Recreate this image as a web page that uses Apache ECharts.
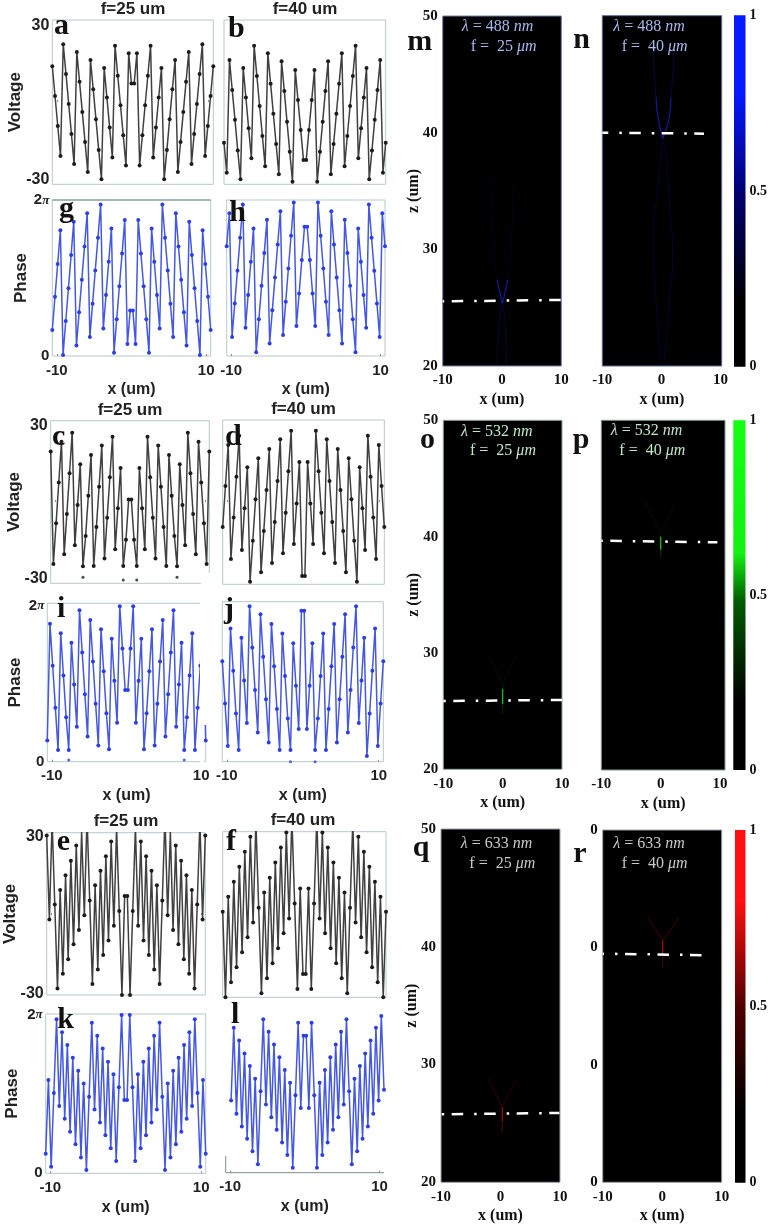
<!DOCTYPE html>
<html>
<head>
<meta charset="utf-8">
<style>
  html, body { margin: 0; padding: 0; background: #fff; }
  #main { width: 770px; height: 1226px; }
</style>
<script src="https://cdn.jsdelivr.net/npm/echarts@6/dist/echarts.min.js"></script>
</head>
<body>
<div id="main"></div>
<script>
// sample positions along x (um), shared by all 60 point profiles
var xSamples = [-10.6,-10.24,-9.88,-9.52,-9.16,-8.8,-8.44,-8.08,-7.73,-7.37,-7.01,-6.65,-6.29,-5.93,-5.57,-5.21,-4.85,-4.49,-4.13,-3.77,-3.41,-3.05,-2.69,-2.34,-1.98,-1.62,-1.26,-0.9,-0.54,-0.18,
  0.18,0.54,0.9,1.26,1.62,1.98,2.34,2.69,3.05,3.41,3.77,4.13,4.49,4.85,5.21,5.57,5.93,6.29,6.65,7.01,7.37,7.73,8.08,8.44,8.8,9.16,9.52,9.88,10.24,10.6];

// voltage profiles (V)
var voltA = [14,2.4,-9.3,-21,22.6,11,-0.7,-12.4,-24.1,19.5,7.9,-3.8,-15.5,-27.2,16.4,5,-6.7,-18.6,-30,13.3,1.8,-9.9,-21.6,22,10.3,-1.2,-12.9,-24.7,19,7.3,
  7.3,19,-24.7,-12.9,-1.2,10.3,22,-21.6,-9.9,1.8,13.3,-30,-18.6,-6.7,5,16.4,-27.2,-15.5,-3.8,7.9,19.5,-24.1,-12.4,-0.7,11,22.6,-21,-9.3,2.4,14];
var voltB = [-15.8,-27.5,16.4,4.7,-6.9,-18.8,-30,13.3,1.8,-10.2,-21.9,22,10.2,-1.5,-13.2,-25,19,7.2,-4.5,-16.3,-28.1,15.9,4.3,-7.6,-19.3,-31,12.5,0.8,-10.8,-22.5,
  -22.5,-10.8,0.8,12.5,-31,-19.3,-7.6,4.3,15.9,-28.1,-16.3,-4.5,7.2,19,-25,-13.2,-1.5,10.2,22,-21.9,-10.2,1.8,13.3,-30,-18.8,-6.9,4.7,16.4,-27.5,-15.8];
var voltC = [19.9,-24.4,-8.4,7.7,23.7,-20.6,-4.7,11.3,27.3,-17,-1.2,14.9,-25.3,-13.4,2.5,18.5,-25.2,-9.8,6,22.2,-22.2,-6.2,9.7,25.7,-18.6,-2.5,13.4,-25.2,-14.9,1,
  1,-14.9,-25.2,13.4,-2.5,-18.6,25.7,9.7,-6.2,-22.2,22.2,6,-9.8,-25.2,18.5,2.5,-13.4,-25.3,14.9,-1.2,-17,27.3,11.3,-4.7,-20.6,23.7,7.7,-8.4,-24.4,19.9];
var voltD = [-9.7,6.3,22.3,-22.1,-6,9.9,25.9,-18.6,-2.4,13.6,-31,-15,1.1,17.1,-27.3,-11.2,4.7,20.7,-23.7,-7.7,8.2,24.5,-19.9,-4.1,12,27.8,-16.3,-0.5,15.6,-28.8,
  -28.8,15.6,-0.5,-16.3,27.8,12,-4.1,-19.9,24.5,8.2,-7.7,-23.7,20.7,4.7,-11.2,-27.3,17.1,1.1,-15,-31,13.6,-2.4,-18.6,25.9,9.9,-6,-22.1,22.3,6.3,-9.7];
var voltE = [30.4,-1.7,36,4,-28.1,9.6,-22.5,15.2,-16.9,20.8,-11.2,26.6,-5.7,31.9,-0.1,37.5,5.6,-26.4,11.4,-20.8,16.9,-15.3,22.5,-9.7,28.1,-4.1,33.6,1.5,-30.6,7.3,
  7.3,-30.6,1.5,33.6,-4.1,28.1,-9.7,22.5,-15.3,16.9,-20.8,11.4,-26.4,5.6,37.5,-0.1,31.9,-5.7,26.6,-11.2,20.8,-16.9,15.2,-22.5,9.6,-28.1,4,36,-1.7,30.4];
var voltF = [2,-30,7.6,-24.4,13.2,-18.8,18.8,-13.2,24.4,-7.6,30,-2,35.6,3.5,-28.5,9.2,-22.9,14.7,-17.3,20.4,-11.7,26,-6.1,31.6,-0.5,37.1,5.1,-26.9,10.7,-21.3,
  -21.3,10.7,-26.9,5.1,37.1,-0.5,31.6,-6.1,26,-11.7,20.4,-17.3,14.7,-22.9,9.2,-28.5,3.5,35.6,-2,30,-7.6,24.4,-13.2,18.8,-18.8,13.2,-24.4,7.6,-30,2];

// phase profiles (rad)
var phaseG = [1.05,2.39,3.71,5.07,0.04,1.41,2.73,4.07,5.41,0.42,1.76,3.07,4.42,5.76,0.77,2.11,3.45,4.77,6.11,1.11,2.46,3.8,5.14,0.13,1.48,2.81,4.13,5.48,0.48,1.83,
  1.83,0.48,5.48,4.13,2.81,1.48,0.13,5.14,3.8,2.46,1.11,6.11,4.77,3.45,2.11,0.77,5.76,4.42,3.07,1.76,0.42,5.41,4.07,2.73,1.41,0.04,5.07,3.71,2.39,1.05];
var phaseH = [4.43,5.76,0.77,2.12,3.44,4.77,6.11,1.14,2.46,3.8,5.14,0.15,1.48,2.83,4.15,5.49,0.5,1.84,3.17,4.5,5.84,0.85,2.19,3.53,4.85,6.19,1.21,2.52,3.87,5.21,
  5.21,3.87,2.52,1.21,6.19,4.85,3.53,2.19,0.85,5.84,4.5,3.17,1.84,0.5,5.49,4.15,2.83,1.48,0.15,5.14,3.8,2.46,1.14,6.11,4.77,3.44,2.12,0.77,5.76,4.43];
var phaseI = [0.86,5.56,3.87,2.18,0.47,5.18,3.48,1.79,0.47,4.8,3.11,1.41,6.11,4.41,2.72,1.02,5.72,4.04,2.34,0.65,5.34,3.65,1.95,0.5,4.96,3.27,1.57,6.27,4.57,2.89,
  2.89,4.57,6.27,1.57,3.27,4.96,0.5,1.95,3.65,5.34,0.65,2.34,4.04,5.72,1.02,2.72,4.41,6.11,1.41,3.11,4.8,0.47,1.79,3.48,5.18,0.47,2.18,3.87,5.56,0.86];
var phaseJ = [4.06,2.35,0.63,5.38,3.67,1.95,0.47,5,3.28,1.56,6.28,4.61,2.89,1.18,5.95,4.24,2.52,0.78,5.56,3.85,2.13,0.47,5.18,3.46,1.74,0.47,4.78,3.07,1.32,6.09,
  6.09,1.32,3.07,4.78,0.47,1.74,3.46,5.18,0.47,2.13,3.85,5.56,0.78,2.52,4.24,5.95,1.18,2.89,4.61,6.28,1.56,3.28,5,0.23,1.95,3.67,5.38,0.63,2.35,4.06];
var phaseK = [0.78,3.7,0.26,3.19,6.11,2.67,5.6,2.16,5.09,1.65,4.58,1.15,4.07,0.63,3.56,0.13,3.04,5.97,2.53,5.46,2.02,4.95,1.51,4.43,0.99,3.93,0.49,3.41,6.28,2.91,
  2.91,6.28,3.41,0.49,3.93,0.99,4.43,1.51,4.95,2.02,5.46,2.53,5.97,3.04,0.13,3.56,0.63,4.07,1.15,4.58,1.65,5.09,2.16,5.6,2.67,6.11,3.19,0.26,3.7,0.78];
var phaseL = [null,null,2.88,5.77,2.35,5.26,1.84,4.75,1.35,4.25,0.85,3.74,0.34,3.24,6.11,2.72,5.61,2.21,5.11,1.71,4.6,1.2,4.09,0.7,3.58,0.2,3.08,5.97,2.58,5.45,
  5.45,2.58,5.97,3.08,0.2,3.58,0.7,4.09,1.2,4.6,1.71,5.11,2.21,5.61,2.72,6.11,3.24,0.34,3.74,0.85,4.25,1.35,4.75,1.84,5.26,2.35,5.77,2.88,6.24,3.3];

// stray dots left under the profiles
var strayC = [[-6.29,-29.6],[-0.9,-30.7],[0.9,-30.7],[6.29,-29.6]];
var strayI = [[-7.73,0.07],[7.73,0.07]];
var strayJ = [[-1.62,0],[1.62,0]];

// focus lines, [x, z] in um
var focusM = [[-10,25.54],[10,25.66]];
var focusN = [[-10,39.98],[7.2,39.9]];
var focusO = [[-10,25.87],[10,25.96]];
var focusP = [[-10,39.67],[9.55,39.53]];
var focusQ = [[-10,25.77],[9.9,25.89]];
var focusR = [[-10,39.47],[8.3,39.33]];

// beam traces, [x, z] in um
var mCoreL = [[0.05,25.4],[-0.4,26.4],[-0.85,27.4]];
var mCoreR = [[0.05,25.4],[0.55,26.4],[0.95,27.4]];
var mArmL = [[-0.85,27.4],[-1.3,29.1],[-1.5,31],[-1.9,36]];
var mArmR = [[0.95,27.4],[1.4,29.1],[1.6,31],[2,36]];
var mLegL = [[0.05,25.6],[-0.35,24.4],[-0.6,22.8],[-0.9,20.1]];
var mLegR = [[0.05,25.6],[0.4,24.4],[0.6,22.8],[0.75,20.1]];
var nCoreL = [[0.22,39.5],[-0.6,41.35],[-0.9,43]];
var nCoreR = [[0.22,39.5],[1.34,41.35],[1.6,43]];
var nArmL = [[-0.9,43],[-1.17,44.8],[-1.45,47.3]];
var nArmR = [[1.6,43],[1.9,44.8],[2.2,47.3]];
var nLegL = [[0.22,39.5],[-0.6,35.4],[-1.3,31.1],[-0.9,25.4],[-0.05,20.1]];
var nLegR = [[0.22,39.5],[0.8,37.6],[1.34,34],[1.9,29.7],[1.34,25.4],[0.4,20.1]];
var oCore = [[0,26.9],[0,25.6]];
var oTail = [[0,25.6],[0,24.8]];
var oArmL = [[0,27],[-0.4,27.8],[-1.3,28.7],[-2.4,29.8]];
var oArmR = [[0,27],[0.4,27.8],[1.25,28.7],[2.4,29.8]];
var pCore = [[0,40],[0,38.9]];
var pTail = [[0,38.9],[0,38.2]];
var pArmL = [[0,40.4],[-1.2,41.6],[-2.6,43]];
var pArmR = [[0,40.4],[1.3,41.6],[2.4,42.8]];
var qCore = [[0.3,26.4],[0.3,25.2]];
var qTail = [[0.3,25.2],[0.3,24.3]];
var qArmL = [[0.3,26.4],[-0.67,27.4],[-2.07,28.8]];
var qArmR = [[0.3,26.4],[1.3,27.4],[2.7,28.7]];
var rCore = [[0.08,40.6],[0.08,39.3]];
var rTail = [[0.08,39.3],[0.08,38.4]];
var rArmL = [[0.08,40.6],[-1.2,41.6],[-2.35,42.6]];
var rArmR = [[0.08,40.6],[1.6,41.6],[2.7,42.6]];

var colorbarMax = [1];
var sans = '"Liberation Sans", Arial, sans-serif';
var serif = '"Liberation Serif", "Times New Roman", serif';

var grid = [], xAxis = [], yAxis = [], series = [];

// left column: voltage / phase profiles
var profilePanels = [
  { v: voltA, box: [52.3,20,213.3,184.3], y: [-32,32], labels: true, name: 'Voltage', gap: 28 },
  { v: voltB, box: [224,20,385.7,184.3], y: [-32,32] },
  { v: phaseG, box: [52.3,200,210.7,356], y: [0,6.29], phase: true, labels: true, name: 'Phase', gap: 22 },
  { v: phaseH, box: [226.7,200,385,356], y: [0,6.29], phase: true, xgap: true },
  { v: voltC, box: [50.7,420.7,209.3,583.3], y: [-32,32], labels: true, name: 'Voltage', gap: 28, stray: strayC },
  { v: voltD, box: [222.7,420,384.3,584.3], y: [-32,32] },
  { v: phaseI, box: [47.3,603.3,205.7,761.7], y: [0,6.39], phase: true, labels: true, name: 'Phase', gap: 23, stray: strayI },
  { v: phaseJ, box: [222.3,601.7,383.3,761.7], y: [0,6.46], phase: true, stray: strayJ },
  { v: voltE, box: [46.7,832.7,205.3,995], y: [-30.6,31.5], labels: true, name: 'Voltage', gap: 28 },
  { v: voltF, box: [222.7,831.7,386,997.3], y: [-30,31.9] },
  { v: phaseK, box: [45.7,1014,205.7,1173.3], y: [0,6.32], phase: true, labels: true, name: 'Phase', gap: 25 },
  { v: phaseL, box: [225.7,1014,384,1172.7], y: [0,6.32], phase: true, noBorder: true }
];

profilePanels.forEach(function (p) {
  var i = grid.length;
  grid.push({
    left: p.box[0], top: p.box[1], width: p.box[2] - p.box[0], height: p.box[3] - p.box[1],
    show: true, backgroundColor: '#fff', borderColor: '#b7c9c9', borderWidth: p.noBorder ? 0 : 1
  });
  xAxis.push({
    gridIndex: i, type: 'value', min: -10.6, max: 10.6,
    name: p.phase ? 'x (um)' : '', nameLocation: 'middle', nameGap: 26, nameMoveOverlap: false,
    nameTextStyle: { fontFamily: sans, fontWeight: 'bold', fontSize: 16, color: '#222' },
    axisLine: { show: false }, splitLine: { show: false },
    axisTick: { show: true, inside: true, length: 2, customValues: [-10, 10], lineStyle: { color: '#889' } },
    axisLabel: {
      show: !!p.phase, customValues: [-10, 10], margin: 7,
      fontFamily: sans, fontWeight: 'bold', fontSize: 15, color: '#222'
    }
  });
  yAxis.push({
    gridIndex: i, type: 'value', min: p.y[0], max: p.y[1],
    name: p.name || '', nameLocation: 'middle', nameGap: p.gap || 20, nameMoveOverlap: false,
    nameTextStyle: { fontFamily: sans, fontWeight: 'bold', fontSize: 17, color: '#222' },
    axisLine: { show: false }, axisTick: { show: false }, splitLine: { show: false },
    axisLabel: {
      show: !!p.labels, customValues: p.phase ? [0, 6.28] : [-30, 30], margin: 3,
      fontFamily: sans, fontWeight: 'bold', fontSize: 16, color: '#222',
      formatter: function (val) {
        if (p.phase) return val > 1 ? '{n|2}{p|π}' : '{n|0}';
        return String(val);
      },
      rich: {
        n: { fontFamily: sans, fontWeight: 'bold', fontSize: 15, color: '#222' },
        p: { fontFamily: serif, fontStyle: 'italic', fontSize: 13, color: '#222' }
      }
    }
  });
  var lineColor = p.phase ? '#4458e2' : '#404040';
  var dotColor = p.phase ? '#2c3fe4' : '#1c1c1c';
  series.push({
    type: 'line', xAxisIndex: i, yAxisIndex: i, clip: true,
    data: p.v.map(function (val, k) { return [xSamples[k], val]; }),
    symbol: 'circle', symbolSize: 4, showAllSymbol: true,
    lineStyle: { color: lineColor, width: 1.5 },
    itemStyle: { color: dotColor }
  });
  if (p.stray) {
    series.push({
      type: 'scatter', xAxisIndex: i, yAxisIndex: i, data: p.stray,
      symbol: 'circle', symbolSize: 3, itemStyle: { color: dotColor }
    });
  }
});

// right column: focal spot maps. Each trace is [data, opacity, width]
var blue = '#1a2cff', green = '#18ff18', red = '#e01010';
var mapPanels = [
  { box: [442.7,16,561.3,366], xmax: 10, color: blue, border: '#6f80b0', focus: focusM, offset: 23.5, ylab: true, gap: 21,
    traces: [[mArmL,0.09,1],[mArmR,0.09,1],[mLegL,0.2,1],[mLegR,0.2,1],[mCoreL,0.6,1.2],[mCoreR,0.6,1.2]] },
  { box: [602.3,15.7,721.7,366], xmax: 10.2, color: blue, border: '#5a6a9a', focus: focusN, offset: 5.5,
    traces: [[nArmL,0.22,1],[nArmR,0.22,1],[nLegL,0.16,1],[nLegR,0.16,1],[nCoreL,0.6,1.2],[nCoreR,0.6,1.2]] },
  { box: [443.3,420.3,562,769.3], xmax: 10, color: green, border: '#8ea59a', focus: focusO, offset: 22.5, ylab: true, gap: 21,
    traces: [[oArmL,0.07,1],[oArmR,0.07,1],[oTail,0.2,1],[oCore,0.8,1.2]] },
  { box: [601.3,420.3,725,770], xmax: 10.83, color: green, border: '#7f9a85', focus: focusP, offset: 23.5,
    traces: [[pArmL,0.07,1],[pArmR,0.07,1],[pTail,0.2,1],[pCore,0.8,1.2]] },
  { box: [441,829,560,1182.3], xmax: 10, color: red, border: '#9aa2ad', focus: focusQ, offset: 21.8, ylab: true, gap: 21,
    traces: [[qArmL,0.18,1.1],[qArmR,0.18,1.1],[qTail,0.3,1.1],[qCore,0.7,1.3]] },
  { box: [602.7,830,721.7,1182.3], xmax: 10, color: red, border: '#9aa2ad', focus: focusR, offset: 10.2, ylab: true, cutLabels: true,
    traces: [[rArmL,0.22,1.1],[rArmR,0.22,1.1],[rTail,0.3,1.1],[rCore,0.7,1.3]] }
];

mapPanels.forEach(function (p) {
  var i = grid.length;
  grid.push({
    left: p.box[0], top: p.box[1], width: p.box[2] - p.box[0], height: p.box[3] - p.box[1],
    show: true, backgroundColor: '#000', borderColor: p.border, borderWidth: 1
  });
  xAxis.push({
    gridIndex: i, type: 'value', min: -10, max: p.xmax,
    name: 'x (um)', nameLocation: 'middle', nameGap: 26, nameMoveOverlap: false,
    nameTextStyle: { fontFamily: serif, fontWeight: 'bold', fontSize: 16, color: '#111' },
    axisLine: { show: false }, axisTick: { show: false }, splitLine: { show: false },
    axisLabel: {
      customValues: [-10, 0, 10], margin: 7,
      fontFamily: serif, fontWeight: 'bold', fontSize: 15, color: '#111'
    }
  });
  yAxis.push({
    gridIndex: i, type: 'value', min: 20, max: 50,
    name: p.gap ? 'z (um)' : '', nameLocation: 'middle', nameGap: p.gap || 20, nameMoveOverlap: false,
    nameTextStyle: { fontFamily: serif, fontWeight: 'bold', fontSize: 16, color: '#111' },
    axisLine: { show: false }, axisTick: { show: false }, splitLine: { show: false },
    axisLabel: {
      show: !!p.ylab, customValues: [20, 30, 40, 50], margin: 5,
      fontFamily: serif, fontWeight: 'bold', fontSize: 15, color: '#111',
      formatter: function (val) { return p.cutLabels ? '0' : String(val); }
    }
  });
  p.traces.forEach(function (t) {
    series.push({
      type: 'line', xAxisIndex: i, yAxisIndex: i, data: t[0], smooth: true, symbol: 'none', z: 2,
      lineStyle: { color: p.color, opacity: t[1], width: t[2] }
    });
  });
  series.push({
    type: 'line', xAxisIndex: i, yAxisIndex: i, data: p.focus, symbol: 'none', z: 3,
    lineStyle: { color: '#fff', width: 2.5, type: [11.5, 11, 2.5, 7.5], dashOffset: p.offset, cap: 'butt' }
  });
});

// colorbars, a single bar from 0 to 1 filled with the colormap
var barPanels = [
  { box: [734,15.3,746.7,366.7], stops: ['#0618ff','#0618ff','#00006a','#000000','#000000'], at: [0,0.22,0.52,0.82,1] },
  { box: [733.3,420.3,746,770], stops: ['#14ff14','#14f014','#005a00','#000000','#000000'], at: [0,0.38,0.52,0.8,1] },
  { box: [735,830,747.3,1182.7], stops: ['#ff1010','#ff1010','#500000','#000000','#000000'], at: [0,0.2,0.5,0.8,1] }
];

barPanels.forEach(function (p) {
  var i = grid.length;
  grid.push({ left: p.box[0], top: p.box[1], width: p.box[2] - p.box[0], height: p.box[3] - p.box[1] });
  xAxis.push({
    gridIndex: i, type: 'category', data: [''],
    axisLine: { show: false }, axisTick: { show: false }, axisLabel: { show: false }
  });
  yAxis.push({
    gridIndex: i, type: 'value', position: 'right', min: 0, max: 1,
    axisLine: { show: false }, axisTick: { show: false }, splitLine: { show: false },
    axisLabel: {
      customValues: [0, 0.5, 1], margin: 4,
      fontFamily: serif, fontWeight: 'bold', fontSize: 14, color: '#111'
    }
  });
  series.push({
    type: 'bar', xAxisIndex: i, yAxisIndex: i, data: colorbarMax, barWidth: '100%',
    itemStyle: {
      color: new echarts.graphic.LinearGradient(0, 0, 0, 1, p.stops.map(function (c, k) {
        return { offset: p.at[k], color: c };
      }))
    }
  });
});

// column headings
var headings = [
  ['f=25 um',133,10], ['f=40 um',305,10],
  ['f=25 um',130,411], ['f=40 um',303.5,410],
  ['f=25 um',126,822], ['f=40 um',303,821]
];
var title = headings.map(function (h) {
  return {
    text: h[0], left: h[1], top: h[2] - 9, textAlign: 'center', padding: 0,
    textStyle: { fontFamily: sans, fontWeight: 'bold', fontSize: 17, color: '#222' }
  };
});

var graphic = [];

// frame pieces the source figure lost or redrew: white patches, then lines
var framePatches = [[201,580,10,6],[207,573,4,8],[200,600,8,125],[200,725,4,40]];
framePatches.forEach(function (r) {
  graphic.push({
    type: 'rect', shape: { x: r[0], y: r[1], width: r[2], height: r[3] }, z: 15,
    style: { fill: '#fff' }
  });
});
var frameLines = [
  [52.3,200,210.7,200,'#6f8c8c'],
  [225.7,1172.7,384,1172.7,'#7d8c8c'],
  [225.7,1156,225.7,1172.7,'#7d8c8c']
];
frameLines.forEach(function (l) {
  graphic.push({
    type: 'line', shape: { x1: l[0], y1: l[1], x2: l[2], y2: l[3] }, z: 15,
    style: { stroke: l[4], lineWidth: 1 }
  });
});

// panel letters: text, x, baseline y
var letters = [
  ['a',54,34],['b',228,37],['g',59,217],['h',229.3,221.7],
  ['c',52,445],['d',225,445],['i',57,617.7],['j',224,618],
  ['e',56.7,850],['f',226,850],['k',57.3,1028.3],['l',231,1023],
  ['m',407.3,50.7],['n',573.3,48.3],['o',420,448.3],['p',572.7,448.3],['q',412.7,856.7],['r',573.3,862.3]
];
letters.forEach(function (l) {
  graphic.push({
    type: 'text', left: l[1], top: l[2] - 23, z: 20,
    style: { text: l[0], font: 'bold 30px ' + serif, fill: '#111' }
  });
});

// wavelength and focal length captions: text, x, centre y, colour
var captions = [
  ['{t|λ} = 488 {t|nm}',461.7,26.7,'#a9b9ee'], ['f =  25 {t|μm}',470.7,46.7,'#a9b9ee'],
  ['{t|λ} = 488 {t|nm}',613.3,26.7,'#a9b9ee'], ['f =  40 {t|μm}',621.7,46.7,'#a9b9ee'],
  ['{t|λ} = 532 {t|nm}',461,431.7,'#bfe6c6'], ['f =  25 {t|μm}',470,450.7,'#bfe6c6'],
  ['{t|λ} = 532 {t|nm}',610.7,431,'#bfe6c6'], ['f =  40 {t|μm}',619.3,450.7,'#bfe6c6'],
  ['{t|λ} = 633 {t|nm}',460.7,844,'#c8c8c8'], ['f =  25 {t|μm}',469.3,863.3,'#c8c8c8'],
  ['{t|λ} = 633 {t|nm}',613.3,844,'#c8c8c8'], ['f =  40 {t|μm}',621.7,863.3,'#c8c8c8']
];
captions.forEach(function (c) {
  graphic.push({
    type: 'text', left: c[1], top: c[2] - 8, z: 20,
    style: {
      text: c[0], font: '16px ' + serif, fill: c[3],
      rich: { t: { fontFamily: serif, fontStyle: 'italic', fontSize: 16, fill: c[3], color: c[3] } }
    }
  });
});

var myChart = echarts.init(document.getElementById('main'));
myChart.setOption({
  animation: false,
  backgroundColor: '#fff',
  title: title,
  grid: grid,
  xAxis: xAxis,
  yAxis: yAxis,
  series: series,
  graphic: graphic
});
</script>
</body>
</html>
